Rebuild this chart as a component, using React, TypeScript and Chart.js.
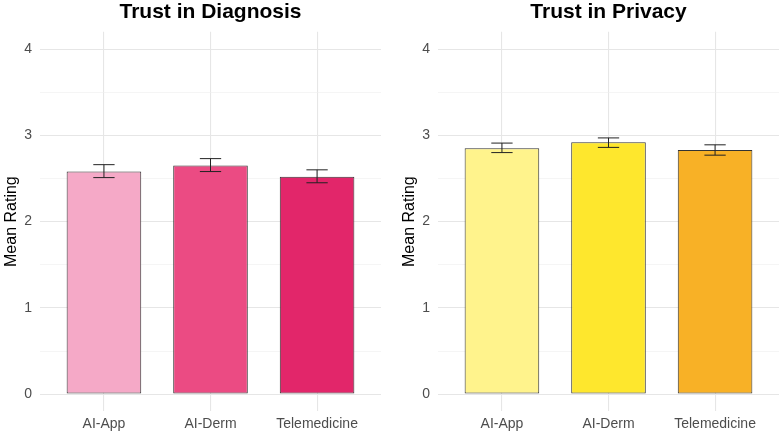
import React, { useEffect, useRef } from "react";
import { Chart, registerables } from "chart.js";

Chart.register(...registerables);

const categories = ["AI-App", "AI-Derm", "Telemedicine"];
const diagnosisMeans = [2.58, 2.65, 2.52];
const diagnosisLower = [2.51, 2.58, 2.45];
const diagnosisUpper = [2.66, 2.73, 2.6];
const privacyMeans = [2.85, 2.92, 2.83];
const privacyLower = [2.8, 2.86, 2.77];
const privacyUpper = [2.91, 2.97, 2.89];
const yTickValues = [0, 0.5, 1, 1.5, 2, 2.5, 3, 3.5, 4];
const diagnosisColors = ["#F5A9C7", "#EB4B83", "#E2266A"];
const privacyColors = ["#FFF38C", "#FEE72D", "#F8B126"];

const FONT = "'Liberation Sans', Arial, sans-serif";

type PanelProps = {
  title: string;
  means: number[];
  lower: number[];
  upper: number[];
  colors: string[];
  padLeft: number;
  padRight: number;
  left: number;
};

function Panel({ title, means, lower, upper, colors, padLeft, padRight, left }: PanelProps) {
  const ref = useRef<HTMLCanvasElement | null>(null);
  useEffect(() => {
    if (!ref.current) return;
    const errorBars = {
      id: "errorBars",
      afterDatasetsDraw(chart: any) {
        const ctx = chart.ctx;
        const xs = chart.scales.x;
        const ys = chart.scales.y;
        ctx.save();
        ctx.strokeStyle = "#222222";
        ctx.lineWidth = 1;
        means.forEach((_, i) => {
          const xc = xs.getPixelForValue(i + 1);
          const xl = xs.getPixelForValue(i + 1 - 0.1);
          const xr = xs.getPixelForValue(i + 1 + 0.1);
          const yl = ys.getPixelForValue(lower[i]);
          const yu = ys.getPixelForValue(upper[i]);
          ctx.beginPath();
          ctx.moveTo(xc, yl);
          ctx.lineTo(xc, yu);
          ctx.moveTo(xl, yl);
          ctx.lineTo(xr, yl);
          ctx.moveTo(xl, yu);
          ctx.lineTo(xr, yu);
          ctx.stroke();
        });
        ctx.restore();
      },
    };
    const chart = new Chart(ref.current, {
      type: "bar",
      data: {
        datasets: [
          {
            data: means.map((m, i) => ({ x: i + 1, y: m })),
            backgroundColor: colors,
            borderColor: "#333333",
            borderWidth: 1,
            borderSkipped: false,
            barPercentage: 0.7,
            categoryPercentage: 1,
          },
        ],
      },
      options: {
        animation: false,
        responsive: false,
        layout: { padding: { left: padLeft, right: padRight, top: 0, bottom: 0 } },
        plugins: {
          legend: { display: false },
          tooltip: { enabled: false },
          title: {
            display: true,
            text: title,
            fullSize: false,
            color: "#000000",
            font: { family: FONT, size: 21, weight: "bold", lineHeight: 1 },
            padding: { top: 2, bottom: 8.8 },
          },
        },
        scales: {
          x: {
            type: "linear",
            min: 0.4,
            max: 3.6,
            offset: false,
            afterBuildTicks: (s: any) => {
              s.ticks = categories.map((_, i) => ({ value: i + 1 }));
            },
            afterFit: (s: any) => {
              s.height = 24.6;
            },
            ticks: {
              callback: (v: any) => categories[Math.round(Number(v)) - 1] ?? "",
              color: "#4D4D4D",
              font: { family: FONT, size: 14 },
              padding: 4,
              maxRotation: 0,
              autoSkip: false,
            },
            grid: { color: "#e6e6e6", lineWidth: 1.1, drawTicks: false, offset: false },
            border: { display: false },
          },
          y: {
            type: "linear",
            min: -0.2,
            max: 4.2,
            afterBuildTicks: (s: any) => {
              s.ticks = yTickValues.map((v) => ({ value: v }));
            },
            afterFit: (s: any) => {
              s.width = 38;
            },
            ticks: {
              callback: (v: any) => (Number.isInteger(Number(v)) ? String(v) : ""),
              color: "#4D4D4D",
              font: { family: FONT, size: 14 },
              padding: 8,
              autoSkip: false,
            },
            grid: {
              drawTicks: false,
              color: (c: any) => (Number.isInteger(c.tick?.value) ? "#e6e6e6" : "#eeeeee"),
              lineWidth: (c: any) => (Number.isInteger(c.tick?.value) ? 1.1 : 0.6),
            },
            border: { display: false },
            title: {
              display: true,
              text: "Mean Rating",
              color: "#000000",
              font: { family: FONT, size: 16 },
              padding: 0,
            },
          },
        },
      },
      plugins: [errorBars],
    } as any);
    return () => chart.destroy();
  }, []);
  return (
    <div style={{ position: "absolute", left, top: 0, width: 390, height: 436 }}>
      <canvas ref={ref} width={390} height={436} style={{ width: 390, height: 436 }} />
    </div>
  );
}

export default function App() {
  return (
    <div
      style={{
        position: "fixed",
        left: 0,
        top: 0,
        width: 781,
        height: 436,
        background: "#ffffff",
        overflow: "hidden",
      }}
    >
      <Panel
        title="Trust in Diagnosis"
        means={diagnosisMeans}
        lower={diagnosisLower}
        upper={diagnosisUpper}
        colors={diagnosisColors}
        padLeft={2}
        padRight={9}
        left={0}
      />
      <Panel
        title="Trust in Privacy"
        means={privacyMeans}
        lower={privacyLower}
        upper={privacyUpper}
        colors={privacyColors}
        padLeft={9}
        padRight={2}
        left={391}
      />
    </div>
  );
}
